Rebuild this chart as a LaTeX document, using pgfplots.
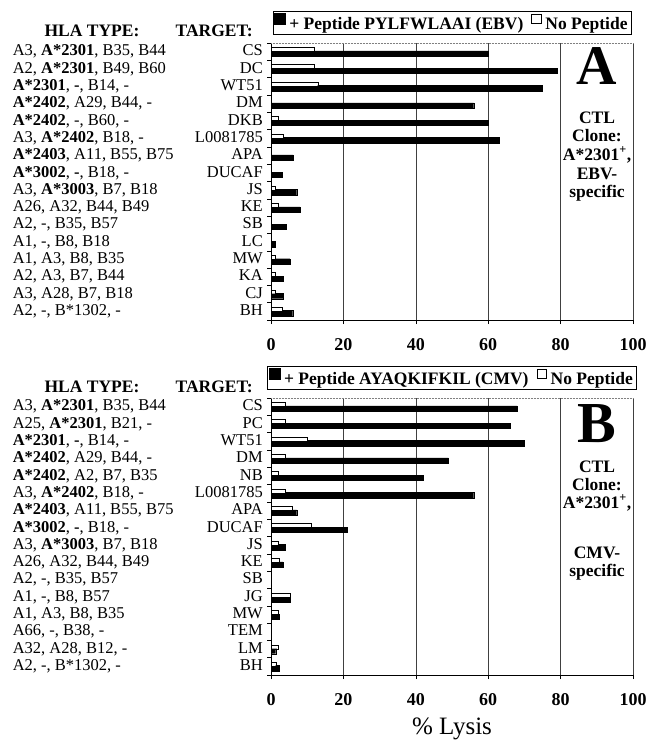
\documentclass[border=0pt]{standalone}
\usepackage{fontspec}
\setmainfont{Liberation Serif}
\usepackage{pgfplots}
\pgfplotsset{compat=1.18}
\newcommand{\lab}[2]{\makebox[250pt]{#1\hfill#2}}
\newcommand{\lf}{\fontsize{16.5}{17}\selectfont}
\newcommand{\hf}{\fontsize{17.5}{19}\selectfont\bfseries}
\begin{document}
\begin{tikzpicture}
\useasboundingbox (0,0) rectangle (650pt,-743pt);
\pgfplotsset{
 panel/.style={
  scale only axis, width=362pt, height=277pt,
  xmin=0, xmax=100, ymin=-0.5, ymax=15.5,
  xtick={0,20,40,60,80,100}, xticklabels={0,20,40,60,80,100},
  xticklabel style={font=\fontsize{18}{20}\selectfont\bfseries, yshift=-11pt},
  ytick={0,...,15},
  minor ytick={-0.5,0.5,...,15.5},
  tick align=outside, major tick length=4pt, minor tick length=4pt,
  xtick pos=bottom, ytick pos=left,
  major y tick style={draw=none},
  tick style={black, line width=0.5pt},
  yticklabel style={font=\lf, inner sep=0pt, xshift=-4pt},
  xmajorgrids, grid style={black!75, line width=0.5pt},
  axis line style={draw=none},
  clip=false,
  legend columns=2,
  legend style={at={(0.5,1)}, anchor=south, yshift=8pt, draw=black, line width=0.6pt,
    font=\hf, inner sep=1.5pt,
    /tikz/every odd column/.append style={column sep=2pt},
    /tikz/every even column/.append style={column sep=6pt}},
 },
 blk/.style={xbar, bar width=5.4pt, bar shift=-2pt, fill=black, draw=black, line width=0.4pt,
   legend image code/.code={\draw[fill=black,draw=black,line width=0.4pt] (0pt,0.5pt) rectangle (10.5pt,11pt);}},
 wht/.style={xbar, bar width=4pt, bar shift=2.3pt, fill=white, draw=black, line width=0.4pt,
   legend image code/.code={\draw[fill=white,draw=black,line width=0.6pt] (0pt,1pt) rectangle (9.5pt,10.5pt);}},
}
% ---------------- Panel A ----------------
\begin{axis}[panel, at={(271pt,-43pt)}, anchor=north west,
  yticklabels={
   {\lab{A2, -, B*1302, -}{BH}},
   {\lab{A3, A28, B7, B18}{CJ}},
   {\lab{A2, A3, B7, B44}{KA}},
   {\lab{A1, A3, B8, B35}{MW}},
   {\lab{A1, -, B8, B18}{LC}},
   {\lab{A2, -, B35, B57}{SB}},
   {\lab{A26, A32, B44, B49}{KE}},
   {\lab{A3, \textbf{A*3003}, B7, B18}{JS}},
   {\lab{\textbf{A*3002}, \textbf{-}, B18, -}{DUCAF}},
   {\lab{\textbf{A*2403}, A11, B55, B75}{APA}},
   {\lab{A3, \textbf{A*2402}, B18, -}{L0081785}},
   {\lab{\textbf{A*2402}, -, B60, -}{DKB}},
   {\lab{\textbf{A*2402}, A29, B44, -}{DM}},
   {\lab{\textbf{A*2301}, \textbf{-}, B14, -}{WT51}},
   {\lab{A2, \textbf{A*2301}, B49, B60}{DC}},
   {\lab{A3, \textbf{A*2301}, B35, B44}{CS}}
  }]
\addplot[blk] coordinates {(6,0) (3.5,1) (3.3,2) (5.2,3) (1.2,4) (4.1,5) (8,6) (7.1,7)
  (3.2,8) (6.1,9) (63,10) (60,11) (56,12) (75,13) (79,14) (60,15)};
\addlegendentry{+ Peptide PYLFWLAAI (EBV)}
\addplot[wht] coordinates {(3.2,0) (1.2,1) (1.2,2) (1.2,3) (0,4) (0,5) (2,6) (1.1,7)
  (0,8) (0,9) (3.3,10) (2.1,11) (0,12) (12.9,13) (12,14) (12,15)};
\addlegendentry{No Peptide}
\draw[black, line width=0.7pt] (axis cs:0,15.5) -- (axis cs:0,-0.5) -- (axis cs:100,-0.5);
\draw[black!50, densely dotted, line width=0.5pt] (axis cs:0,15.5) -- (axis cs:100,15.5);
\end{axis}
% ---------------- Panel B ----------------
\begin{axis}[panel, at={(271pt,-398pt)}, anchor=north west,
  xlabel={\% Lysis},
  xlabel style={font=\fontsize{25}{27}\selectfont, at={(axis description cs:0.5,0)}, anchor=center, yshift=-54pt},
  yticklabels={
   {\lab{A2, -, B*1302, -}{BH}},
   {\lab{A32, A28, B12, -}{LM}},
   {\lab{A66, -, B38, -}{TEM}},
   {\lab{A1, A3, B8, B35}{MW}},
   {\lab{A1, -, B8, B57}{JG}},
   {\lab{A2, -, B35, B57}{SB}},
   {\lab{A26, A32, B44, B49}{KE}},
   {\lab{A3, \textbf{A*3003}, B7, B18}{JS}},
   {\lab{\textbf{A*3002}, \textbf{-}, B18, -}{DUCAF}},
   {\lab{\textbf{A*2403}, A11, B55, B75}{APA}},
   {\lab{A3, \textbf{A*2402}, B18, -}{L0081785}},
   {\lab{\textbf{A*2402}, A2, B7, B35}{NB}},
   {\lab{\textbf{A*2402}, A29, B44, -}{DM}},
   {\lab{\textbf{A*2301}, \textbf{-}, B14, -}{WT51}},
   {\lab{A25, \textbf{A*2301}, B21, -}{PC}},
   {\lab{A3, \textbf{A*2301}, B35, B44}{CS}}
  }]
\addplot[blk] coordinates {(2.2,0) (1.3,1) (0,2) (2.2,3) (5.3,4) (0,5) (3.3,6) (4,7)
  (21,8) (7.1,9) (56,10) (42,11) (49,12) (70,13) (66,14) (68,15)};
\addlegendentry{+ Peptide AYAQKIFKIL (CMV)}
\addplot[wht] coordinates {(1.3,0) (2,1) (0,2) (2,3) (5.3,4) (0,5) (2.2,6) (2,7)
  (11,8) (5.8,9) (4,10) (2,11) (4,12) (10,13) (4,14) (4,15)};
\addlegendentry{No Peptide}
\draw[black, line width=0.7pt] (axis cs:0,15.5) -- (axis cs:0,-0.5) -- (axis cs:100,-0.5);
\draw[black!50, densely dotted, line width=0.5pt] (axis cs:0,15.5) -- (axis cs:100,15.5);
\end{axis}
% ---------------- headers and panel texts ----------------
\node[font=\hf, anchor=base] at (92pt,-37pt) {HLA TYPE:};
\node[font=\hf, anchor=base east, inner sep=0pt] at (253pt,-37pt) {TARGET:};
\node[font=\hf, anchor=base] at (92pt,-392pt) {HLA TYPE:};
\node[font=\hf, anchor=base east, inner sep=0pt] at (253pt,-392pt) {TARGET:};
\node[font=\fontsize{56}{56}\selectfont\bfseries] at (597pt,-66pt) {A};
\node[font=\hf] at (597pt,-118pt) {CTL};
\node[font=\hf] at (597pt,-136pt) {Clone:};
\node[font=\hf] at (597pt,-155pt) {A*2301\textsuperscript{+},};
\node[font=\hf] at (597pt,-174pt) {EBV-};
\node[font=\hf] at (597pt,-193pt) {specific};
\node[font=\fontsize{58}{58}\selectfont\bfseries] at (597pt,-424pt) {B};
\node[font=\hf] at (597pt,-467pt) {CTL};
\node[font=\hf] at (597pt,-485pt) {Clone:};
\node[font=\hf] at (597pt,-503pt) {A*2301\textsuperscript{+},};
\node[font=\hf] at (597pt,-553pt) {CMV-};
\node[font=\hf] at (597pt,-572pt) {specific};
\end{tikzpicture}
\end{document}
